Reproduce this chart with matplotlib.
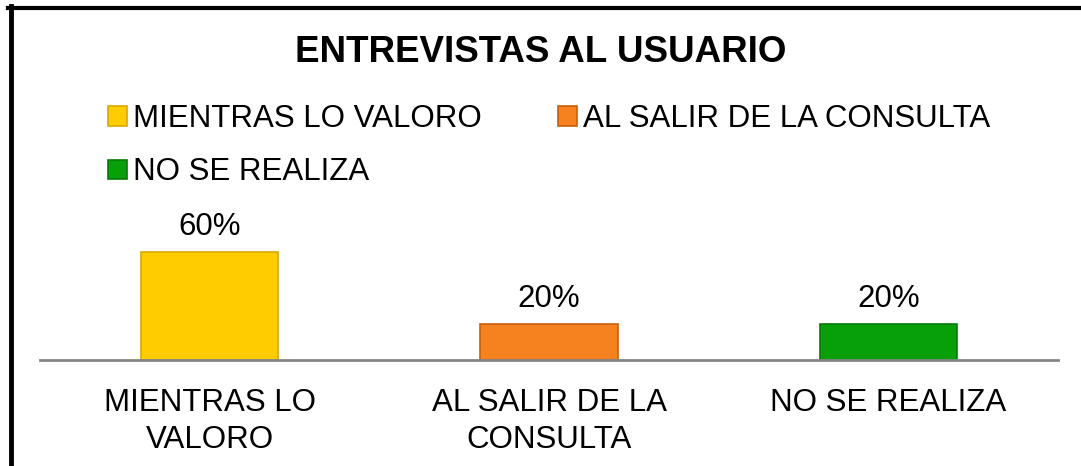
import matplotlib
matplotlib.use("Agg")
import matplotlib.pyplot as plt
from matplotlib.lines import Line2D

categories = ["MIENTRAS LO VALORO", "AL SALIR DE LA CONSULTA", "NO SE REALIZA"]
tick_labels = ["MIENTRAS LO\nVALORO", "AL SALIR DE LA\nCONSULTA", "NO SE REALIZA"]
values = [0.60, 0.20, 0.20]
colors = ["#FFCC00", "#F5821F", "#08A008"]
edges = ["#D9A800", "#C8600C", "#067A06"]
title = "ENTREVISTAS AL USUARIO"

plt.rcParams['font.family'] = ['Liberation Sans', 'DejaVu Sans']

W, H = 1081, 466
fig = plt.figure(figsize=(W / 100, H / 100), dpi=100)
fig.patch.set_facecolor("white")

ax = fig.add_axes([40 / W, 1 - 360 / H, 1018 / W, 162 / H])
x = list(range(len(categories)))
bars = ax.bar(x, values, width=0.405, color=colors, edgecolor=edges, linewidth=1.2, zorder=2)
ax.set_xlim(-0.5, 2.5)
ax.set_ylim(0, 0.9)
for s in ["top", "right", "left"]:
    ax.spines[s].set_visible(False)
ax.spines["bottom"].set_color("#868686")
ax.spines["bottom"].set_linewidth(2)
ax.spines["bottom"].set_zorder(3)
ax.set_yticks([])
ax.set_xticks(x)
ax.set_xticklabels(tick_labels, fontsize=22.5, linespacing=1.3)
ax.tick_params(axis="x", length=0, pad=20)
ax.bar_label(bars, labels=[f"{v*100:.0f}%" for v in values], fontsize=22.5, padding=7)
ax.patch.set_alpha(0)

fig.text(541 / W, 1 - 53 / H, title, ha="center", va="center", fontsize=26.5, fontweight="bold")

handles = [bars[0], bars[2], bars[1]]
labels = [categories[0], categories[2], categories[1]]
fig.legend(handles, labels, ncol=2, loc="upper left", bbox_to_anchor=(108 / W, 1 - 104 / H),
           frameon=False, fontsize=22.5, handlelength=0.6, handleheight=0.6,
           handletextpad=0.2, columnspacing=2.45, labelspacing=0.75, borderpad=0, borderaxespad=0)

fig.add_artist(Line2D([8 / W, 1], [1 - 7.5 / H, 1 - 7.5 / H], transform=fig.transFigure,
                      color="black", linewidth=3))
fig.add_artist(Line2D([11 / W, 11 / W], [1 - 6 / H, 0], transform=fig.transFigure,
                      color="black", linewidth=3.5))

fig.savefig("out.png", dpi=100)
